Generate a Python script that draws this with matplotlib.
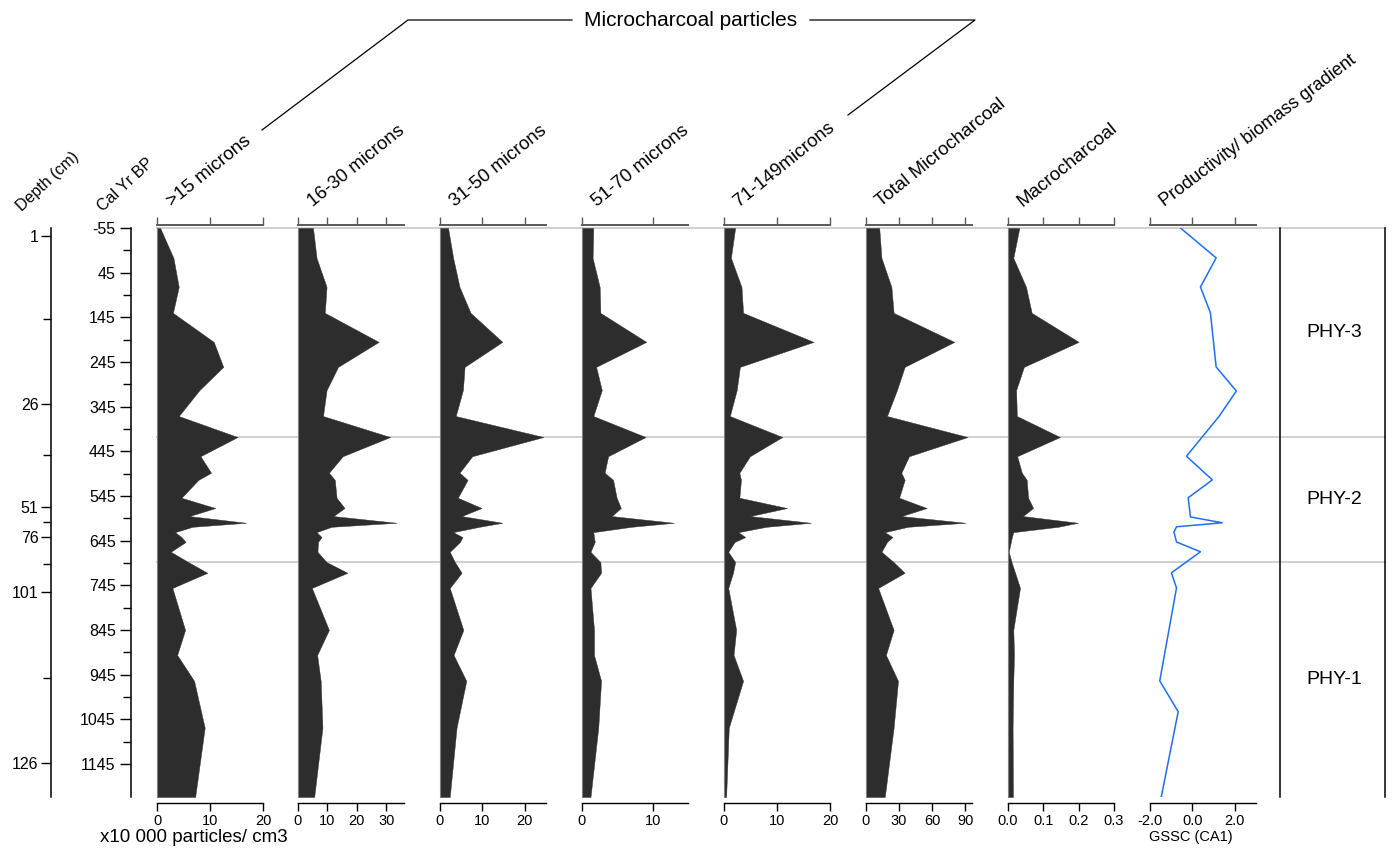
import matplotlib.pyplot as plt
from matplotlib.lines import Line2D
from matplotlib.transforms import blended_transform_factory

plt.rcParams['font.family'] = ['Liberation Sans', 'DejaVu Sans']

# sample ages (cal yr BP) of the charcoal counts
cal_age = [-55, 12, 77, 135, 200, 256, 308, 366, 413, 456, 493, 509, 549, 572, 590,
           605, 614, 626, 637, 648, 670, 693, 717, 751, 845, 901, 959, 1064, 1219]

# microcharcoal concentrations, x10 000 particles/cm3
gt15 = [0.6, 3.1, 4.1, 3.0, 10.7, 12.5, 8.0, 4.1, 15.2, 8.2, 10.2, 7.8, 4.6, 11.0, 6.1,
        16.8, 6.7, 3.4, 4.6, 5.4, 2.6, 5.9, 9.5, 2.9, 5.3, 3.8, 7.0, 9.0, 7.2]
m16_30 = [5.1, 6.3, 9.7, 9.1, 27.4, 13.6, 9.7, 8.5, 31.3, 15.2, 10.5, 12.5, 13.1, 15.8, 12.0,
          33.5, 11.4, 6.3, 8.0, 6.8, 6.6, 9.7, 16.8, 4.7, 10.5, 6.5, 7.7, 8.3, 5.5]
m31_50 = [1.9, 3.1, 4.6, 7.2, 14.7, 5.8, 5.4, 3.7, 24.4, 7.6, 4.6, 6.5, 4.2, 9.8, 5.1,
          14.7, 9.3, 3.1, 5.3, 4.7, 2.3, 3.5, 5.1, 2.3, 5.5, 3.2, 6.2, 3.9, 2.3]
m51_70 = [1.6, 1.5, 2.5, 2.6, 9.1, 2.0, 2.8, 1.6, 9.0, 3.7, 3.2, 4.4, 4.9, 5.5, 4.2,
          13.0, 7.0, 1.6, 1.7, 1.8, 1.2, 2.6, 2.7, 1.2, 1.7, 1.7, 2.7, 2.3, 1.2]
m71_149 = [2.1, 1.3, 3.3, 3.6, 16.9, 3.0, 2.4, 1.1, 11.0, 4.9, 2.9, 3.2, 2.9, 11.9, 4.9,
           16.4, 8.0, 2.7, 4.0, 2.0, 0.8, 2.1, 1.7, 0.8, 2.3, 1.8, 3.6, 0.9, 0.4]
total_micro = [12, 14, 23, 25, 80, 35, 28, 19, 92, 39, 32, 35, 30, 55, 32,
               90, 38, 17, 24, 19, 14, 25, 35, 11, 25, 18, 29, 25, 17]
macro = [0.032, 0.015, 0.051, 0.067, 0.200, 0.045, 0.023, 0.025, 0.147, 0.026, 0.039,
         0.053, 0.057, 0.071, 0.042, 0.198, 0.142, 0.015, 0.011, 0.008, 0.002, 0.010,
         0.020, 0.034, 0.015, 0.017, 0.015, 0.013, 0.014]

# productivity / biomass gradient (CA axis 1 scores)
prod_age = [-55, 12, 77, 135, 256, 310, 366, 456, 509, 549, 592, 605, 614, 626, 648,
            670, 717, 751, 959, 1028, 1219]
prod_ca1 = [-0.56, 1.12, 0.38, 0.85, 1.12, 2.07, 1.27, -0.28, 0.94, -0.20, -0.09, 1.41,
            -0.75, -0.87, -0.75, 0.38, -0.99, -0.75, -1.54, -0.67, -1.47]

# depth scale against age
depth_labels = [1, 26, 51, 76, 101, 126]
depth_label_ages = [-37, 339, 570, 637, 760, 1143]
depth_minor_ages = [149, 453, 603, 697, 952]

cal_major = list(range(-55, 1146, 100))
cal_minor = list(range(-5, 1100, 100))

# pollen zones
zone_names = ['PHY-3', 'PHY-2', 'PHY-1']
zone_bounds = [-55, 413, 693, 1219]

panels = [
    ('>15 microns', gt15, 20, [0, 10, 20], ['0', '10', '20']),
    ('16-30 microns', m16_30, 36, [0, 10, 20, 30], ['0', '10', '20', '30']),
    ('31-50 microns', m31_50, 25, [0, 10, 20], ['0', '10', '20']),
    ('51-70 microns', m51_70, 15, [0, 10], ['0', '10']),
    ('71-149microns', m71_149, 20, [0, 10, 20], ['0', '10', '20']),
    ('Total Microcharcoal', total_micro, 96, [0, 30, 60, 90], ['0', '30', '60', '90']),
    ('Macrocharcoal', macro, 0.3, [0, 0.1, 0.2, 0.3], ['0.0', '0.1', '0.2', '0.3']),
]

W, H = 1392, 848
TOP, BOT = 228, 797
fig = plt.figure(figsize=(W / 100, H / 100), dpi=100)


def px_axes(x0, y0, x1, y1, **kw):
    return fig.add_axes([x0 / W, 1 - y1 / H, (x1 - x0) / W, (y1 - y0) / H], **kw)


def fx(x):
    return x / W


def fy(y):
    return 1 - y / H


age_lim = (zone_bounds[-1], zone_bounds[0])
fill_col = '#2d2d2d'
grey = '#5a5a5a'
title_rot = 39

# zone boundary lines running behind all panels
bg = px_axes(157, TOP, 1385, BOT, zorder=0)
bg.set_ylim(age_lim)
bg.axis('off')
for b in zone_bounds[:-1]:
    bg.axhline(b, color='#d0d0d0', lw=1.4, clip_on=False)


def style_panel(ax, xmax, ticks, labels, left_spine=True):
    ax.patch.set_alpha(0)
    ax.set_ylim(age_lim)
    ax.set_yticks([])
    ax.set_xticks(ticks)
    ax.set_xticklabels(labels)
    for s in ('top', 'right'):
        ax.spines[s].set_visible(False)
    ax.spines['left'].set_visible(left_spine)
    ax.spines['left'].set_color('#808080')
    ax.spines['bottom'].set_position(('outward', 4))
    ax.spines['bottom'].set_linewidth(1.0)
    ax.tick_params(axis='x', direction='out', length=6, width=1.0, labelsize=10.5, pad=2)
    top = ax.secondary_xaxis(1 + 3 / (BOT - TOP))
    top.set_xticks(ticks)
    top.tick_params(axis='x', direction='out', length=6, width=1.0, color=grey,
                    labeltop=False)
    top.spines['top'].set_color(grey)
    top.spines['top'].set_linewidth(1.4)


lefts = [157, 298, 440, 582, 724, 866, 1008, 1150]
pw = 106
for left, (name, vals, xmax, ticks, labels) in zip(lefts, panels):
    ax = px_axes(left, TOP, left + pw, BOT, zorder=1)
    ax.fill_betweenx(cal_age, 0, vals, color=fill_col, lw=0.3, ec=fill_col)
    ax.set_xlim(0, xmax)
    style_panel(ax, xmax, ticks, labels)
    fig.text(fx(left + 15), fy(207), name, rotation=title_rot, rotation_mode='anchor',
             ha='left', va='baseline', fontsize=13.5)

# productivity curve
ax = px_axes(lefts[-1], TOP, lefts[-1] + pw, BOT, zorder=1)
ax.plot(prod_ca1, prod_age, color='#1f6ff0', lw=1.1)
ax.set_xlim(-2, 3)
style_panel(ax, 3, [-2, 0, 2], ['-2.0', '0.0', '2.0'], left_spine=False)
fig.text(fx(lefts[-1] + 15), fy(207), 'Productivity/ biomass gradient', rotation=37,
         rotation_mode='anchor', ha='left', va='baseline', fontsize=13)

# zone column
zax = px_axes(1280, TOP, 1385, BOT, zorder=1)
zax.patch.set_alpha(0)
zax.set_ylim(age_lim)
zax.set_xticks([])
zax.set_yticks([])
for s in ('top', 'bottom'):
    zax.spines[s].set_visible(False)
for s in ('left', 'right'):
    zax.spines[s].set_linewidth(1.1)
tr = blended_transform_factory(zax.transAxes, zax.transData)
for name, a0, a1 in zip(zone_names, zone_bounds[:-1], zone_bounds[1:]):
    zax.text(0.52, (a0 + a1) / 2, name, transform=tr, ha='center', va='center',
             fontsize=14)

# cal yr BP axis
cax = px_axes(131, TOP, 132, BOT)
cax.patch.set_alpha(0)
cax.set_ylim(age_lim)
cax.set_xticks([])
for s in ('top', 'bottom', 'right'):
    cax.spines[s].set_visible(False)
cax.spines['left'].set_linewidth(1.1)
cax.set_yticks(cal_major)
cax.set_yticklabels([str(v) for v in cal_major])
cax.set_yticks(cal_minor, minor=True)
cax.tick_params(axis='y', which='major', length=8, width=1.0, labelsize=11.5, pad=3)
cax.tick_params(axis='y', which='minor', length=6, width=1.0)

# depth axis
dax = px_axes(51, TOP, 52, BOT)
dax.patch.set_alpha(0)
dax.set_ylim(age_lim)
dax.set_xticks([])
for s in ('top', 'bottom', 'right'):
    dax.spines[s].set_visible(False)
dax.spines['left'].set_linewidth(1.1)
dax.set_yticks(depth_label_ages)
dax.set_yticklabels([str(d) for d in depth_labels])
dax.set_yticks(depth_minor_ages, minor=True)
dax.tick_params(axis='y', which='major', length=7, width=1.0, labelsize=11.5, pad=2)
dax.tick_params(axis='y', which='minor', length=6, width=1.0)

fig.text(fx(22), fy(212), 'Depth (cm)', rotation=43, rotation_mode='anchor',
         ha='left', va='baseline', fontsize=11.5)
fig.text(fx(103), fy(212), 'Cal Yr BP', rotation=43, rotation_mode='anchor',
         ha='left', va='baseline', fontsize=11.5)

# group bracket over the microcharcoal size classes
fig.add_artist(Line2D([fx(262), fx(408), fx(572)], [fy(130), fy(20), fy(20)],
                      color='k', lw=0.9))
fig.add_artist(Line2D([fx(810), fx(975), fx(848)], [fy(20), fy(20), fy(115)],
                      color='k', lw=0.9))
fig.text(fx(691), fy(20), 'Microcharcoal particles', ha='center', va='center',
         fontsize=15)

fig.text(fx(100), fy(838), 'x10 000 particles/ cm3', ha='left', va='center',
         fontsize=13.5)
fig.text(fx(1191), fy(837), 'GSSC (CA1)', ha='center', va='center', fontsize=10.5)

fig.savefig('out.png', dpi=100)
